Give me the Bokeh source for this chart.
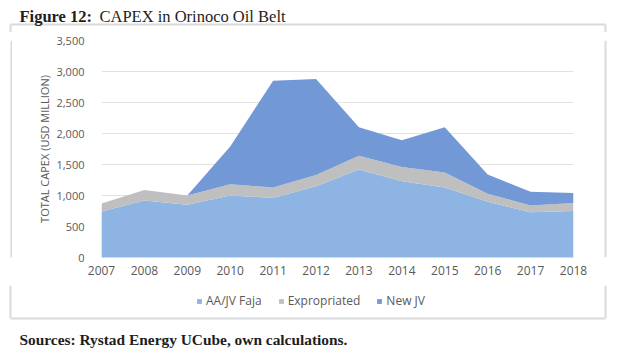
from bokeh.plotting import figure
from bokeh.models import (Range1d, FixedTicker, NumeralTickFormatter, Legend, LegendItem,
                          ColumnDataSource)
from bokeh.layouts import column, row
from bokeh.core.properties import value
from bokeh.embed import file_html
from bokeh.resources import INLINE

# ---------------- data ----------------
years = [2007, 2008, 2009, 2010, 2011, 2012, 2013, 2014, 2015, 2016, 2017, 2018]
aa_jv_faja = [740, 920, 850, 1000, 960, 1150, 1420, 1230, 1130, 900, 730, 750]
expropriated = [130, 170, 150, 180, 170, 180, 220, 230, 240, 130, 110, 130]
new_jv = [0, 0, 0, 610, 1720, 1550, 460, 430, 730, 310, 220, 160]
series_names = ["AA/JV Faja", "Expropriated", "New JV"]
y_ticks = [0, 500, 1000, 1500, 2000, 2500, 3000, 3500]
title_bold = "Figure 12:"
title_rest = "CAPEX in Orinoco Oil Belt"
y_label = "TOTAL CAPEX (USD MILLION)"
sources_text = "Sources: Rystad Energy UCube, own calculations."

# ---------------- styles ----------------
FONT = "Open Sans"
SERIF = "Liberation Serif"
GREY = "#595959"
TXT = "#1E1E1E"
BOX = "#DADADA"
COLORS = ["#8DB4E2", "#BFBFBF", "#7398D6"]
W, H_TOP, H_MID, H_BOT = 624, 32, 253, 68
LEFT_W, RIGHT_W = 12, 21


def blank(width, height):
    f = figure(width=width, height=height, output_backend="svg", toolbar_location=None,
               x_range=Range1d(0, width), y_range=Range1d(height, 0),
               x_axis_type=None, y_axis_type=None, min_border=0)
    f.outline_line_color = None
    f.background_fill_color = "white"
    f.border_fill_color = "white"
    f.grid.visible = False
    return f


# ---------------- title band ----------------
top = blank(W, H_TOP)
top.segment(x0=[10, 10, 605], y0=[24, 24, 24], x1=[605, 10, 605], y1=[24, H_TOP, H_TOP],
            line_color=BOX, line_width=2)
top.text(x=[19], y=[16], text=[title_bold], text_font=value(SERIF), text_font_style="bold",
         text_font_size="16.5px", text_color=TXT, text_baseline="middle", text_align="left")
top.text(x=[99], y=[16], text=[title_rest], text_font=value(SERIF), text_font_style="normal",
         text_font_size="16.5px", text_color=TXT, text_baseline="middle", text_align="left")

# ---------------- chart ----------------
source = ColumnDataSource(dict(year=years, aa=aa_jv_faja, ex=expropriated, nj=new_jv))
CW = W - LEFT_W - RIGHT_W
p = figure(width=CW, height=H_MID, output_backend="svg", toolbar_location=None,
           x_range=Range1d(years[0], years[-1]), y_range=Range1d(0, 3500),
           min_border_left=101 - LEFT_W, min_border_right=(W - RIGHT_W) - 573,
           min_border_top=40 - H_TOP, min_border_bottom=(H_TOP + H_MID) - 257)
p.outline_line_color = None
p.background_fill_color = "white"
p.border_fill_color = "white"

p.varea_stack(stackers=["aa", "ex", "nj"], x="year", source=source, color=COLORS)

p.xgrid.grid_line_color = None
p.ygrid.grid_line_color = "#E3E3E3"
p.ygrid.ticker = FixedTicker(ticks=y_ticks)

p.yaxis.ticker = FixedTicker(ticks=y_ticks)
p.yaxis.formatter = NumeralTickFormatter(format="0,0")
p.yaxis.axis_line_color = None
p.yaxis.major_tick_line_color = None
p.yaxis.minor_tick_line_color = None
p.yaxis.major_tick_out = 0
p.yaxis.major_label_text_font = FONT
p.yaxis.major_label_text_font_size = "11px"
p.yaxis.major_label_text_color = GREY
p.yaxis.major_label_standoff = 17
p.yaxis.axis_label = y_label
p.yaxis.axis_label_text_font = FONT
p.yaxis.axis_label_text_font_size = "11px"
p.yaxis.axis_label_text_font_style = "normal"
p.yaxis.axis_label_text_color = GREY
p.yaxis.axis_label_standoff = 1

p.xaxis.ticker = FixedTicker(ticks=years)
p.xaxis.axis_line_color = "#D9D9D9"
p.xaxis.major_tick_line_color = None
p.xaxis.minor_tick_line_color = None
p.xaxis.major_tick_out = 0
p.xaxis.major_label_text_font = FONT
p.xaxis.major_label_text_font_size = "12px"
p.xaxis.major_label_text_color = GREY
p.xaxis.major_label_standoff = 8

left = blank(LEFT_W, H_MID)
left.segment(x0=[11], y0=[0], x1=[11], y1=[H_MID], line_color=BOX, line_width=2)
right = blank(RIGHT_W, H_MID)
right.segment(x0=[2], y0=[0], x1=[2], y1=[H_MID], line_color=BOX, line_width=2)

# ---------------- legend / sources band ----------------
bot = blank(W, H_BOT)
bot.segment(x0=[10, 10, 605], y0=[33, 0, 0], x1=[605, 10, 605], y1=[33, 33, 33],
            line_color=BOX, line_width=2)
# legend swatches (placed off-canvas so only their legend entries show)
dummies = [bot.varea(x=[-50, -40], y1=[-50, -50], y2=[-40, -40], fill_color=c) for c in COLORS]
legend = Legend(items=[LegendItem(label=n, renderers=[r]) for n, r in zip(series_names, dummies)],
                orientation="horizontal", location=(196, H_BOT - 15 - 9),
                label_text_font=FONT, label_text_font_size="12px", label_text_color=GREY,
                glyph_width=6, glyph_height=6, label_standoff=4, spacing=16,
                padding=2, margin=0, border_line_color=None, background_fill_alpha=0)
bot.add_layout(legend)
bot.text(x=[19], y=[54], text=[sources_text], text_font=value(SERIF), text_font_style="bold",
         text_font_size="15.4px", text_color=TXT, text_baseline="middle", text_align="left")

layout = column(top, row(left, p, right), bot)
open("out.html", "w").write(file_html(layout, INLINE))
